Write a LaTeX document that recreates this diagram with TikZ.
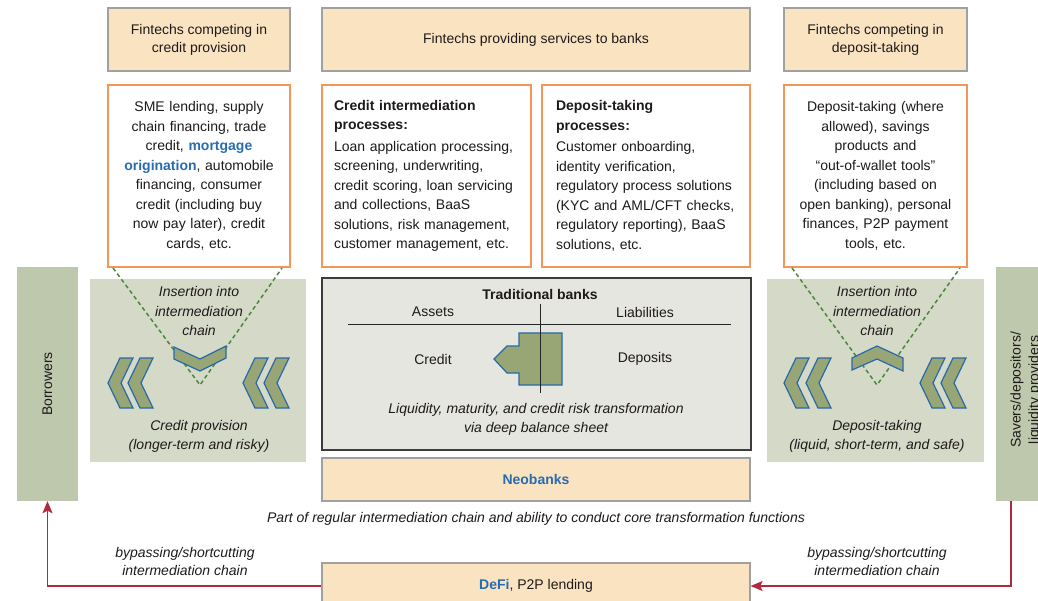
\documentclass[tikz,border=0pt]{standalone}
\usepackage{fontspec}
\setmainfont{Liberation Sans}
\usetikzlibrary{arrows.meta,calc}
\definecolor{cTan}{RGB}{250,227,192}
\definecolor{cTanBorder}{RGB}{160,160,160}
\definecolor{cOrange}{RGB}{244,150,90}
\definecolor{cPanel}{RGB}{213,217,200}
\definecolor{cBar}{RGB}{190,200,172}
\definecolor{cChev}{RGB}{152,166,118}
\definecolor{cChevBorder}{RGB}{40,105,170}
\definecolor{cDash}{RGB}{75,135,60}
\definecolor{cCenter}{RGB}{230,230,224}
\definecolor{cDark}{RGB}{60,60,60}
\definecolor{cRed}{RGB}{178,40,60}
\definecolor{cBlue}{RGB}{40,108,176}
\definecolor{cText}{RGB}{30,26,27}
\newcommand\dfont{\fontsize{14}{19.5}\selectfont}
\newcommand\tfont{\fontsize{14}{18}\selectfont}
\tikzset{
  every node/.style={text=cText},
  tanbox/.style={draw=cTanBorder, fill=cTan, line width=1.2pt, inner sep=0pt, align=center, font=\tfont},
  obox/.style={draw=cOrange, fill=white, line width=1.2pt, inner sep=0pt, font=\dfont},
  panel/.style={fill=cPanel, draw=none, inner sep=0pt},
  bar/.style={fill=cBar, draw=none, inner sep=0pt},
  itext/.style={font=\dfont\itshape, align=center, inner sep=0pt},
  ntext/.style={font=\dfont, align=center, inner sep=0pt},
  chevstyle/.style={fill=cChev, draw=cChevBorder, line width=1.2pt, line join=miter},
  dashline/.style={draw=cDash, line width=1.5pt, dash pattern=on 4pt off 3pt},
  redarrow/.style={draw=cRed, line width=1.6pt, -{Stealth[length=12pt,width=10pt,inset=2.5pt]}},
  chevL/.pic={\path[chevstyle] (0,0) -- (12,-25) -- (25,-25) -- (13,0) -- (25,25) -- (12,25) -- cycle;}
}
\begin{document}
\begin{tikzpicture}[x=1pt,y=-1pt]
\useasboundingbox (0,0) rectangle (1038,601);
\clip (0,0) rectangle (1038,601);

% top boxes
\node[tanbox, minimum width=182pt, minimum height=63pt] (tl) at (199,39.5) {Fintechs competing in\\credit provision};
\node[tanbox, minimum width=428pt, minimum height=63pt] (tc) at (536,39.5) {Fintechs providing services to banks};
\node[tanbox, minimum width=183pt, minimum height=63pt] (tr) at (875.5,39.5) {Fintechs competing in\\deposit-taking};

% orange boxes
\node[obox, minimum width=182pt, minimum height=182pt, text width=170pt, align=center] (ol) at (199,176)
 {SME lending, supply\\chain financing, trade\\credit, \textcolor{cBlue}{\bfseries mortgage}\\\textcolor{cBlue}{\bfseries origination}, automobile\\financing, consumer\\credit (including buy\\now pay later), credit\\cards, etc.};
\node[obox, minimum width=209pt, minimum height=182pt, text width=185pt, inner xsep=12pt, align=left] (ocl) at (426.5,176)
 {\textbf{Credit intermediation}\\\textbf{processes:}\\[2pt]Loan application processing,\\screening, underwriting,\\credit scoring, loan servicing\\and collections, BaaS\\solutions, risk management,\\customer management, etc.};
\node[obox, minimum width=208pt, minimum height=182pt, text width=180pt, inner xsep=14pt, align=left] (ocr) at (646,176)
 {\textbf{Deposit-taking}\\\textbf{processes:}\\[2pt]Customer onboarding,\\identity verification,\\regulatory process solutions\\(KYC and AML/CFT checks,\\regulatory reporting), BaaS\\solutions, etc.};
\node[obox, minimum width=183pt, minimum height=182pt, text width=175pt, align=center] (or) at (875.5,176)
 {Deposit-taking (where\\allowed), savings\\products and\\“out-of-wallet tools”\\(including based on\\open banking), personal\\finances, P2P payment\\tools, etc.};

% side bars
\node[bar, minimum width=61pt, minimum height=234pt] (borrowers) at (47.5,384) {};
\node[ntext, rotate=90] (borrowerslabel) at (borrowers.center) {Borrowers};
\node[bar, minimum width=61pt, minimum height=234pt] (savers) at (1026.5,384) {};
\node[ntext, rotate=90, font=\tfont] (saverslabel) at (1026,390) {Savers/depositors/\\liquidity providers};

% side panels
\node[panel, minimum width=216pt, minimum height=183pt] (pl) at (198,370.5) {};
\node[panel, minimum width=217pt, minimum height=183pt] (pr) at (875.5,370.5) {};

% dashed insertion lines
\coordinate (vl) at (200,385);
\coordinate (vr) at (877,385);
\draw[dashline] (113,268) -- (vl) -- (282,268);
\draw[dashline] (792,268) -- (vr) -- (960,268);

% V chevrons
\path[chevstyle] (174,347) -- (200,359) -- (226,346) -- (226,358) -- (200,371) -- (174,359) -- cycle;
\path[chevstyle] (852,358) -- (877,346) -- (903,358) -- (903,371) -- (877,359) -- (852,370) -- cycle;

% double chevrons
\pic at (108,383) {chevL};
\pic at (128,383) {chevL};
\pic at (243,383) {chevL};
\pic at (264,383) {chevL};
\pic at (784,383) {chevL};
\pic at (806,383) {chevL};
\pic at (920,383) {chevL};
\pic at (941,383) {chevL};

% panel texts
\node[itext] (insl) at (199,311) {Insertion into\\intermediation\\chain};
\node[itext] (cpl) at (199,436.5) {Credit provision\\(longer-term and risky)};
\node[itext] (insr) at (877,311) {Insertion into\\intermediation\\chain};
\node[itext] (dtr) at (877,436.5) {Deposit-taking\\(liquid, short-term, and safe)};

% traditional banks
\node[draw=cDark, fill=cCenter, line width=1.2pt, minimum width=429pt, minimum height=172pt, inner sep=0pt] (tb) at (536.5,364) {};
\node[ntext, font=\dfont\bfseries] (tbt) at (540,294) {Traditional banks};
\node[ntext] (assets) at (433,312) {Assets};
\node[ntext] (liab) at (645,312) {Liabilities};
\draw[line width=1pt, draw=black!85] (348,325) -- (731,325);
\path[chevstyle] (519,333) -- (562,333) -- (562,385) -- (519,385) -- (519,373) -- (507,373) -- (494,359) -- (507,346) -- (519,346) -- cycle;
\draw[line width=1pt, draw=black!85] (540,304) -- (540,393);
\node[ntext] (credit) at (433,359) {Credit};
\node[ntext] (deposits) at (645,359) {Deposits};
\node[itext, font=\fontsize{14}{19}\selectfont\itshape] (liq) at (536,419.5) {Liquidity, maturity, and credit risk transformation\\via deep balance sheet};

% neobanks and defi
\node[tanbox, minimum width=428pt, minimum height=43pt, font=\dfont] (nb) at (536,479.5) {\textcolor{cBlue}{\bfseries Neobanks}};
\node[itext] (part) at (536,519) {Part of regular intermediation chain and ability to conduct core transformation functions};
\node[tanbox, minimum width=428pt, minimum height=46pt, font=\dfont] (df) at (536,586) {\textcolor{cBlue}{\bfseries DeFi}, P2P lending};

% bypass arrows
\draw[redarrow] (df.west) -| (borrowers.south);
\draw[redarrow] ($(savers.south west)+(15,0)$) |- (df.east);
\node[itext, font=\tfont\itshape] (bpl) at (185,561.5) {bypassing/shortcutting\\intermediation chain};
\node[itext, font=\tfont\itshape] (bpr) at (877,561.5) {bypassing/shortcutting\\intermediation chain};
\end{tikzpicture}
\end{document}
